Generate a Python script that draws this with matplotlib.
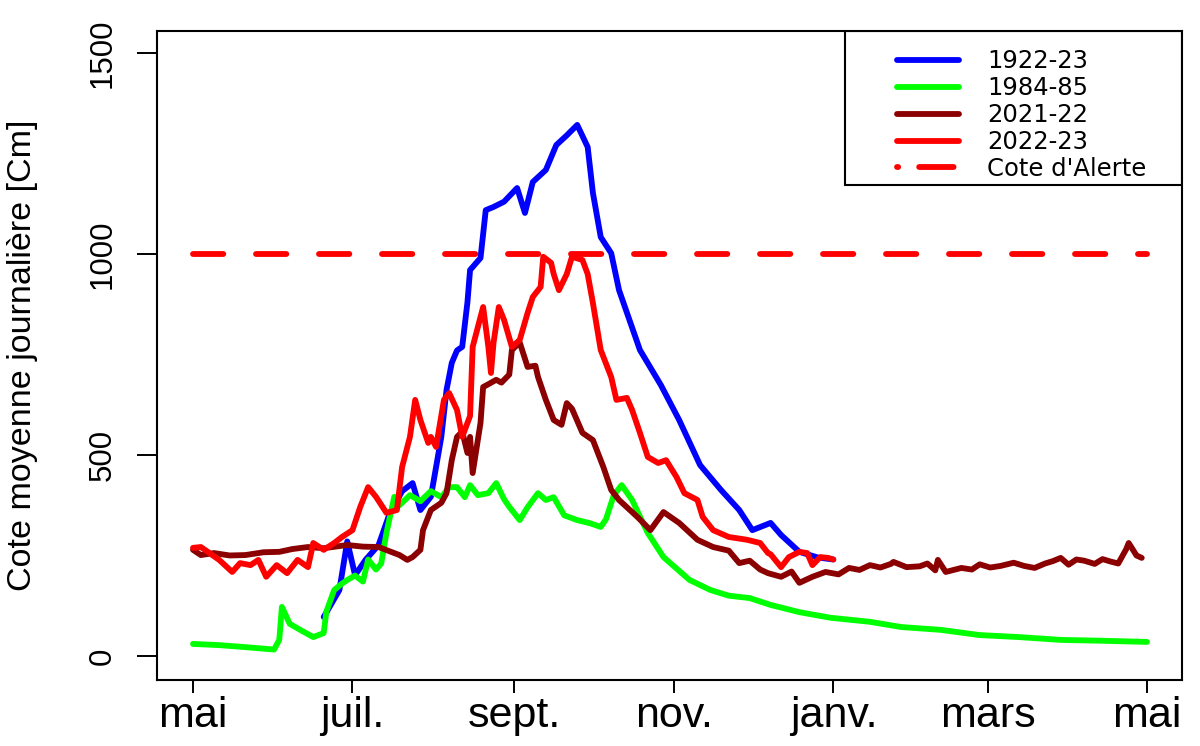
import matplotlib
matplotlib.use("Agg")
import matplotlib.pyplot as plt
from matplotlib.patches import Rectangle

plt.rcParams['font.family'] = ['Liberation Sans', 'DejaVu Sans']

# jours depuis le 1er mai
mois_pos = [0, 61, 123, 184, 245, 304, 365]
mois_lab = ['mai', 'juil.', 'sept.', 'nov.', 'janv.', 'mars', 'mai']

# 1922-23
j_1922 = [50, 56, 59, 62, 66, 71, 75, 80, 84, 87, 91, 93, 95, 97, 99, 101, 103, 105, 106, 110,
          112, 115, 119, 124, 127, 130, 135, 139, 143, 147, 151, 153, 156, 160, 163, 171, 179,
          186, 194, 202, 209, 214, 221, 225, 232, 239, 245]
v_1922 = [97, 164, 285, 201, 239, 276, 350, 410, 430, 363, 396, 470, 545, 662, 729, 760, 769, 880,
          960, 990, 1109, 1117, 1130, 1164, 1102, 1179, 1209, 1271, 1295, 1321, 1266, 1152, 1042,
          1002, 910, 761, 674, 587, 475, 413, 363, 313, 331, 301, 259, 245, 240]

# 1984-85
j_1984 = [0, 10, 20, 31, 33, 34, 37, 41, 46, 50, 51, 54, 57, 59, 62, 65, 67, 70, 72, 74, 77, 79,
          83, 87, 91, 95, 98, 101, 104, 106, 109, 113, 116, 119, 121, 125, 128, 132, 135, 138, 142,
          147, 152, 156, 158, 161, 164, 168, 174, 180, 190, 198, 205, 213, 221, 232, 244, 259, 271,
          286, 301, 316, 332, 347, 365]
v_1984 = [30, 27, 22, 16, 40, 122, 80, 65, 47, 57, 110, 164, 180, 189, 200, 185, 240, 215, 230, 306,
          396, 375, 400, 385, 410, 395, 420, 420, 395, 425, 400, 405, 430, 390, 371, 338, 370, 405,
          388, 395, 350, 338, 330, 321, 340, 400, 425, 388, 306, 246, 189, 164, 150, 144, 127, 109,
          95, 85, 72, 65, 52, 47, 40, 38, 35]

# 2021-22
j_2021 = [0, 3, 8, 14, 20, 27, 33, 38, 44, 50, 59, 65, 71, 77, 79, 82, 84, 87, 88, 91, 95, 97, 99,
          101, 103, 105, 106, 107, 110, 111, 113, 116, 118, 121, 122, 125, 128, 131, 132, 135, 138,
          141, 143, 145, 149, 153, 157, 160, 163, 170, 175, 180, 186, 193, 199, 205, 209, 213, 217,
          220, 225, 229, 232, 237, 242, 247, 251, 255, 259, 263, 267, 268, 273, 278, 281, 284, 285,
          288, 294, 298, 301, 305, 309, 314, 318, 322, 326, 329, 332, 335, 338, 341, 345, 348, 351,
          354, 357, 358, 361, 363]
v_2021 = [264, 251, 256, 250, 251, 258, 259, 266, 271, 268, 276, 272, 271, 256, 251, 239, 246, 264,
          313, 363, 381, 405, 487, 545, 558, 505, 545, 455, 580, 669, 676, 687, 680, 700, 761, 780,
          719, 722, 694, 637, 587, 575, 629, 615, 555, 537, 470, 413, 388, 346, 313, 358, 331, 289,
          271, 262, 231, 237, 215, 206, 197, 210, 182, 197, 209, 203, 219, 214, 226, 220, 229, 234,
          221, 223, 230, 213, 239, 209, 219, 215, 228, 220, 224, 232, 224, 219, 230, 236, 244, 227,
          240, 237, 229, 241, 235, 230, 265, 281, 250, 244]

# 2022-23
j_2022 = [0, 3, 5, 10, 15, 18, 22, 25, 28, 32, 36, 40, 44, 46, 50, 54, 57, 61, 64, 67, 70, 74, 78,
          80, 83, 85, 87, 90, 91, 93, 96, 98, 101, 103, 106, 107, 111, 113, 114, 115, 117, 119, 122,
          125, 128, 130, 133, 134, 137, 138, 140, 143, 145, 149, 151, 153, 156, 160, 162, 166, 168,
          171, 174, 178, 181, 185, 188, 193, 195, 199, 205, 212, 217, 220, 221, 225, 228, 232, 235,
          237, 240, 243, 245]
v_2022 = [269, 271, 262, 239, 209, 231, 226, 239, 197, 226, 206, 239, 221, 281, 264, 281, 296, 313,
          371, 420, 396, 356, 363, 470, 545, 637, 587, 530, 545, 520, 637, 654, 612, 545, 597, 769,
          868, 769, 704, 780, 868, 836, 769, 786, 853, 893, 918, 993, 978, 950, 910, 950, 993, 985,
          950, 878, 761, 694, 637, 642, 612, 555, 495, 480, 487, 445, 405, 388, 346, 313, 296, 289,
          281, 256, 253, 221, 246, 259, 256, 226, 246, 244, 240]

cote_alerte = 1000

fig = plt.figure(figsize=(12, 7.46), dpi=100)
ax = fig.add_axes([0.1308, 0.0885, 0.8542, 0.8700])

lw = 4.2
kw = dict(lw=lw, solid_joinstyle='round', solid_capstyle='round')
ax.plot(j_1922, v_1922, color='#0000ff', label='1922-23', **kw)
ax.plot(j_1984, v_1984, color='#00ff00', label='1984-85', **kw)
ax.plot(j_2021, v_2021, color='#8b0000', label='2021-22', **kw)
ax.plot(j_2022, v_2022, color='#ff0000', label='2022-23', **kw)
ax.plot([mois_pos[0], mois_pos[-1]], [cote_alerte, cote_alerte], color='#ff0000', lw=lw,
        dashes=(5.2, 5.6), dash_capstyle='round', label="Cote d'Alerte")

ax.set_xlim(-13.8, 378.4)
ax.set_ylim(-59.7, 1554.7)

ax.set_xticks(mois_pos)
ax.set_xticklabels(mois_lab, fontsize=31)
ax.set_yticks([0, 500, 1000, 1500])
ax.set_yticklabels(['0', '500', '1000', '1500'], fontsize=22.5, rotation=90, va='center')
ax.tick_params(axis='x', length=9.4, width=1.4, pad=2)
ax.tick_params(axis='y', length=14.4, width=1.4, pad=14)
ax.set_ylabel('Cote moyenne journalière [Cm]', fontsize=24.5, labelpad=36)

for s in ax.spines.values():
    s.set_linewidth(1.5)

# cadre de la légende (plus large que le texte, comme dans R)
ax.add_patch(Rectangle((0.671, 0.7627), 0.329, 0.2373, transform=ax.transAxes, fill=False,
                       edgecolor='black', lw=1.5, zorder=5))
leg = ax.legend(loc='upper left', bbox_to_anchor=(0.715, 0.983), borderaxespad=0,
                prop={'family': 'DejaVu Sans', 'size': 17.5}, frameon=False,
                handlelength=2.55, handletextpad=1.15, labelspacing=0.12, borderpad=0.3)
# tiret de la légende qui commence par un point, comme le rendu R
leg.get_lines()[4].set_linestyle((5.7, (5.9, 3.6)))

fig.savefig('out.png', dpi=100)
